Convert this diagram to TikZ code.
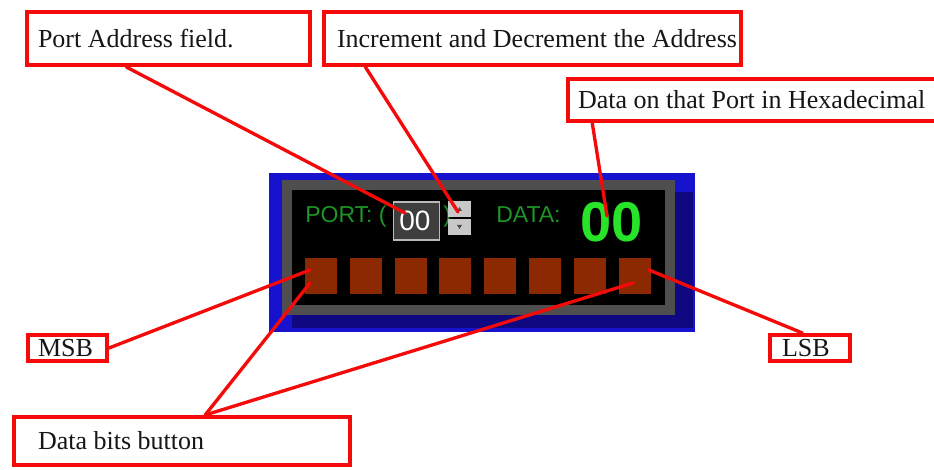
\documentclass[tikz,border=0pt]{standalone}
\usepackage{fontspec}
\setmainfont{Liberation Serif}
\newfontfamily\panelfont{Liberation Sans}
\usetikzlibrary{calc}

\definecolor{calloutred}{RGB}{245,10,10}
\definecolor{labelink}{RGB}{22,22,22}
\definecolor{panelblue}{RGB}{22,18,205}
\definecolor{panelnavy}{RGB}{16,8,128}
\definecolor{framegray}{RGB}{78,78,78}
\definecolor{bitbrown}{RGB}{140,40,2}
\definecolor{labelgreen}{RGB}{28,150,36}
\definecolor{valuegreen}{RGB}{40,228,40}
\definecolor{fieldgray}{RGB}{62,62,62}
\definecolor{spingray}{RGB}{200,200,200}

\tikzset{
  lblbox/.style={draw=calloutred, line width=3pt, fill=white, rectangle,
    text=labelink, font=\fontsize{19.5}{23}\selectfont, inner ysep=0pt},
  callout/.style={draw=calloutred, line width=2.5pt, line cap=round},
  bitbtn/.style={fill=bitbrown, minimum width=24pt, minimum height=27pt,
    inner sep=0pt, rectangle},
  greenlbl/.style={text=labelgreen, font=\panelfont\fontsize{17.25}{20}\selectfont,
    anchor=base west, inner sep=0pt},
  spinbtn/.style={fill=spingray, minimum width=17pt, minimum height=12pt,
    inner sep=0pt, rectangle},
}

\begin{document}
\begin{tikzpicture}[x=0.75pt, y=-0.75pt]
  \useasboundingbox (0,0) rectangle (934,470);
  \clip (0,0) rectangle (934,470);

  % ---- the port panel ----
  \fill[panelblue] (269,173) rectangle (695,332);
  \fill[panelnavy] (292,192) rectangle (693,328);
  \fill[framegray] (282,180) rectangle (675,315);
  \fill[black] (292,190) rectangle (665,305);

  % data bit buttons, MSB first
  \foreach \i in {1,...,8}{
    \node[bitbtn] (b\i) at ({321+44.8*(\i-1)}, 276) {};
  }

  % port address field and its spinner
  \node[greenlbl] (portlbl) at (305,223) {PORT: (};
  \node[rectangle, fill=fieldgray, draw=gray!55, line width=0.8pt,
        minimum width=35pt, minimum height=28.5pt, inner sep=0pt] (addr) at (416.5,221) {};
  \node[text=white, font=\panelfont\fontsize{21}{24}\selectfont, anchor=base west,
        inner sep=0pt] (addrval) at (399,231) {00};
  \node[greenlbl] (portclose) at (443,223) {)};
  \node[spinbtn] (spinup) at (459.5,209) {};
  \node[spinbtn] (spindown) at (459.5,227) {};
  \fill[black!70] ($(spinup)+(-2.5,2)$) -- ($(spinup)+(2.5,2)$) -- ($(spinup)+(0,-2)$) -- cycle;
  \fill[black!70] ($(spindown)+(-2.5,-2)$) -- ($(spindown)+(2.5,-2)$) -- ($(spindown)+(0,2)$) -- cycle;

  % port data
  \node[greenlbl] (datalbl) at (496,223) {DATA:};
  \node[text=valuegreen, font=\panelfont\bfseries\fontsize{42}{48}\selectfont, anchor=base west,
        inner sep=0pt] (dataval) at (580,242) {00};

  % points the callouts reach
  \coordinate (addrpt) at (405,213);
  \coordinate (spinpt) at (458,212);
  \coordinate (datapt) at (607,216);
  \coordinate (msbpt) at (310,270);
  \coordinate (firstbitpt) at (310,283);
  \coordinate (lastbitpt) at (633,283);
  \coordinate (lsbpt) at (649,270);

  % ---- callout boxes ----
  \node[lblbox, minimum width=212.25pt, minimum height=39.75pt, inner xsep=8.25pt]
    (portaddr) at (168.5,38.5) {\makebox[195.75pt][l]{Port Address field.}};
  \node[lblbox, minimum width=312.75pt, minimum height=39.75pt, inner xsep=9.75pt]
    (incdec) at (532.5,38.5) {\makebox[293.25pt][l]{Increment and Decrement the Address}};
  \node[lblbox, minimum width=286.5pt, minimum height=31.5pt, inner xsep=7.5pt]
    (hexdata) at (759,100) {\makebox[271.5pt][l]{Data on that Port in Hexadecimal}};
  \node[lblbox, minimum width=59.25pt, minimum height=19.5pt, inner xsep=7.5pt]
    (msb) at (67.5,348) {\makebox[44.25pt][l]{MSB}};
  \node[lblbox, minimum width=60pt, minimum height=19.5pt, inner xsep=9pt]
    (lsb) at (810,348) {\makebox[42pt][l]{LSB}};
  \node[lblbox, minimum width=252pt, minimum height=36pt, inner xsep=18pt]
    (databits) at (182,441) {\makebox[216pt][l]{Data bits button}};

  % ---- callout lines ----
  \draw[callout] ($(portaddr.south west)!0.353!(portaddr.south east)$) -- (addrpt);
  \draw[callout] ($(incdec.south west)!0.103!(incdec.south east)$) -- (spinpt);
  \draw[callout] ($(hexdata.south west)!0.068!(hexdata.south east)$) -- (datapt);
  \draw[callout] (msb.east) -- (msbpt);
  \draw[callout] ($(databits.north west)!0.568!(databits.north east)$) -- (firstbitpt);
  \draw[callout] ($(databits.north west)!0.568!(databits.north east)$) -- (lastbitpt);
  \draw[callout] ($(lsb.north west)!0.41!(lsb.north east)$) -- (lsbpt);
\end{tikzpicture}
\end{document}
